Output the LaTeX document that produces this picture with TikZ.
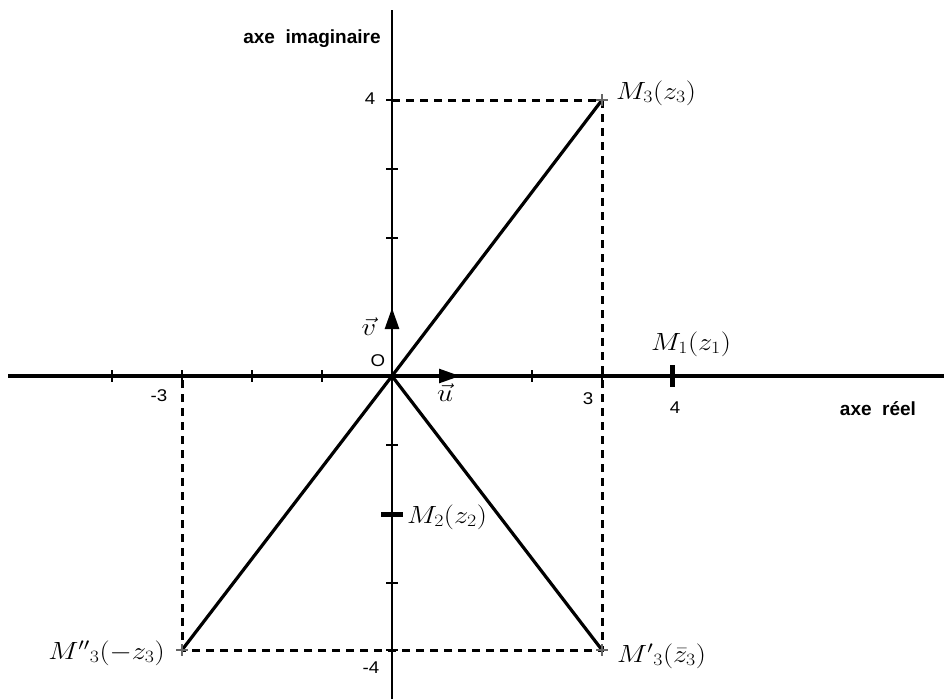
\documentclass[tikz,border=0pt]{standalone}
\usepackage{fontspec}
\usepackage{graphicx}
\newfontfamily\axfont{Liberation Sans}
\usetikzlibrary{arrows.meta}
\DeclareMathSizes{24}{24}{19}{14}
\newcommand{\wlab}[1]{\scalebox{1.15}[1]{#1}}
\begin{document}
\begin{tikzpicture}[x=1pt,y=-1pt,
  axisx/.style={line width=4.2pt},
  axisy/.style={line width=2.6pt},
  seg/.style={line width=3.2pt},
  dsh/.style={line width=3pt, dash pattern=on 8pt off 6pt},
  tck/.style={line width=2.3pt},
  thk/.style={line width=5pt},
  crs/.style={line width=2.2pt, draw=black!60},
  num/.style={font=\axfont\fontsize{17}{20}\selectfont, inner sep=0pt},
  ttl/.style={font=\axfont\bfseries\fontsize{19}{22}\selectfont, inner sep=0pt},
  lab/.style={font=\fontsize{24}{28}\selectfont, inner sep=0pt},
  vecarrow/.style={line width=2.6pt, -{Triangle[length=21pt,width=14pt]}}
]
\useasboundingbox (0,0) rectangle (944,699);
% points
\coordinate (O) at (392,376);
\coordinate (xl) at (8,376);
\coordinate (xr) at (944,376);
\coordinate (yt) at (392,10);
\coordinate (yb) at (392,699);
\coordinate (M3) at (602,100);
\coordinate (M3p) at (602,650);
\coordinate (M3pp) at (182,650);
\coordinate (M1) at (672,376);
\coordinate (M2) at (392,514);
\coordinate (Y4) at (392,100);
\coordinate (Xm3) at (182,376);
\coordinate (U) at (460,376);
\coordinate (V) at (392,308);
% dashed projections
\draw[dsh] (Y4) -- (M3) -- (M3p) -- (M3pp) -- (Xm3);
% axes
\draw[axisx] (xl) -- (xr);
\draw[axisy] (yb) -- (yt);
% ticks
\foreach \x in {112,182,252,322,532,602}
  \draw[tck] (\x,370) -- (\x,382);
\foreach \y in {100,169,238,445,583,650}
  \draw[tck] (386,\y) -- (398,\y);
% M1, M2 marks
\draw[thk] (M1) ++(0,-11) -- ++(0,22);
\draw[thk] (M2) ++(-11,0) -- ++(22,0);
% segments
\draw[seg] (O) -- (M3);
\draw[seg] (O) -- (M3p);
\draw[seg] (O) -- (M3pp);
% crosses
\foreach \p in {M3,M3p,M3pp}
  \draw[crs] (\p) ++(-6,0) -- ++(12,0) (\p) ++(0,-6) -- ++(0,12);
% vectors
\draw[vecarrow] (O) -- (U);
\draw[vecarrow] (O) -- (V);
% labels
\node[lab, anchor=west] (lM3) at (616,93) {\wlab{$M_3(z_3)$}};
\node[lab, anchor=west] (lM1) at (651,344) {\wlab{$M_1(z_1)$}};
\node[lab, anchor=west] (lM2) at (407,517) {\wlab{$M_2(z_2)$}};
\node[lab, anchor=west] (lM3p) at (617,656) {\wlab{$M'{}_3(\bar z_3)$}};
\node[lab, anchor=east] (lM3pp) at (165,653) {\wlab{$M''{}_3(-z_3)$}};
\node[lab] (lv) at (369,327) {\wlab{$\vec v$}};
\node[lab] (lu) at (445,393) {\wlab{$\vec u$}};
\node[num] (lO) at (378,361) {\scalebox{1.1}[1]{O}};
\node[num] (ly4) at (370,99) {\scalebox{1.1}[1]{4}};
\node[num] (lym4) at (371,668) {\scalebox{1.1}[1]{-4}};
\node[num] (lxm3) at (159,396) {\scalebox{1.1}[1]{-3}};
\node[num] (lx3) at (588,399) {\scalebox{1.1}[1]{3}};
\node[num] (lx4) at (675,408) {\scalebox{1.1}[1]{4}};
\node[ttl] (ti) at (312,39) {axe\ \ imaginaire};
\node[ttl] (tr) at (878,409) {axe\ \ réel};
\end{tikzpicture}
\end{document}
